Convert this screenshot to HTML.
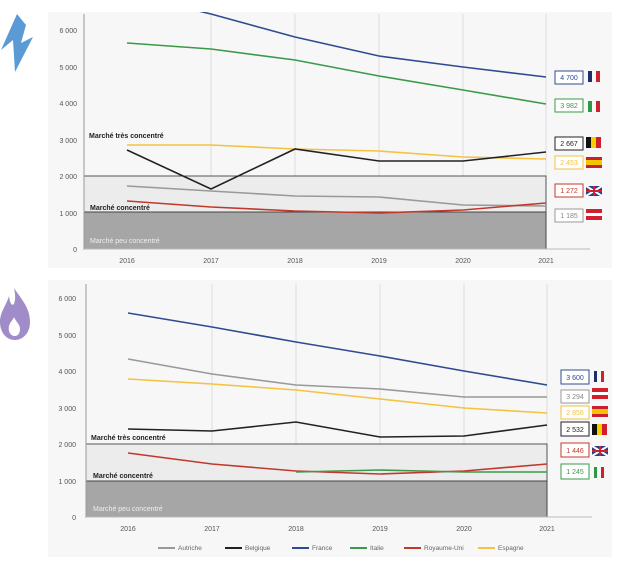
<!DOCTYPE html>
<html><head><meta charset="utf-8"><style>
html,body{margin:0;padding:0;background:#fff;}
svg{display:block;font-family:"Liberation Sans",sans-serif;}
</style></head><body>
<svg width="639" height="563" viewBox="0 0 639 563" xmlns="http://www.w3.org/2000/svg">
<defs><clipPath id="c1"><rect x="48" y="12" width="564" height="256"/></clipPath></defs>
<!-- icons -->
<polygon points="17,14 1,50 13,40 15,72 33,37 21,43 26,25" fill="#5b9bd5"/>
<path d="M14,288 C22,300 30,308 30,322 C30,334 22,340 15,340 C6,340 0,332 0,322 C0,312 6,306 9,296 C10,304 12,306 14,304 C16,298 15,293 14,288 Z" fill="#a08cc8"/>
<path d="M15,336 C10,336 8,331 9,326 C10,322 13,320 14,317 C16,322 20,324 20,329 C20,333 18,336 15,336Z" fill="#fff"/>

<!-- top panel -->
<rect x="48" y="12" width="564" height="256" fill="#f7f7f7"/>
<g stroke="#dcdcdc" stroke-width="1">
<line x1="211" y1="14" x2="211" y2="249"/><line x1="295" y1="14" x2="295" y2="249"/><line x1="379" y1="14" x2="379" y2="249"/><line x1="463" y1="14" x2="463" y2="249"/><line x1="546" y1="14" x2="546" y2="249"/>
</g>
<rect x="84" y="176" width="462" height="36" fill="#ececec" stroke="#555" stroke-width="1"/>
<rect x="84" y="212" width="462" height="37" fill="#a6a6a6" stroke="#444" stroke-width="1"/>
<line x1="84" y1="14" x2="84" y2="249" stroke="#999"/>
<line x1="84" y1="249" x2="590" y2="249" stroke="#bbb"/>
<g font-size="7" fill="#555" text-anchor="end">
<text x="77" y="33">6 000</text><text x="77" y="70">5 000</text><text x="77" y="106">4 000</text><text x="77" y="143">3 000</text><text x="77" y="179">2 000</text><text x="77" y="216">1 000</text><text x="77" y="252">0</text>
</g>
<g font-size="7" fill="#555" text-anchor="middle">
<text x="127" y="263">2016</text><text x="211" y="263">2017</text><text x="295" y="263">2018</text><text x="379" y="263">2019</text><text x="463" y="263">2020</text><text x="546" y="263">2021</text>
</g>
<g font-size="7" font-weight="bold" fill="#222">
<text x="89" y="138">Marché très concentré</text><text x="90" y="210">Marché concentré</text>
</g>
<text x="90" y="243" font-size="7" fill="#eee">Marché peu concentré</text>
<g fill="none" stroke-width="1.6" clip-path="url(#c1)">
<polyline stroke="#2f4b8f" points="127,-6 211,14 295,37 379,56 463,67 546,77"/>
<polyline stroke="#3a9a4a" points="127,43 211,49 295,60 379,76 463,90 546,104"/>
<polyline stroke="#f5c242" points="127,145 211,145 295,149 379,151 463,157 546,159"/>
<polyline stroke="#222" points="127,150 211,189 295,149 379,161 463,161 546,152"/>
<polyline stroke="#999" points="127,186 211,191 295,196 379,197 463,205 546,206"/>
<polyline stroke="#c0392b" points="127,201 211,207 295,211 379,213 463,210 546,203"/>
</g>
<g font-size="7" text-anchor="middle">
<rect x="555" y="71" width="28" height="13" fill="#fff" stroke="#2f4b8f"/><text x="569" y="80" fill="#2f4b8f">4 700</text>
<rect x="555" y="99" width="28" height="13" fill="#fff" stroke="#3a9a4a"/><text x="569" y="108" fill="#3a9a4a">3 982</text>
<rect x="555" y="137" width="28" height="13" fill="#fff" stroke="#222"/><text x="569" y="146" fill="#222">2 667</text>
<rect x="555" y="156" width="28" height="13" fill="#fff" stroke="#f5c242"/><text x="569" y="165" fill="#f5c242">2 453</text>
<rect x="555" y="184" width="28" height="13" fill="#fff" stroke="#c0392b"/><text x="569" y="193" fill="#c0392b">1 272</text>
<rect x="555" y="209" width="28" height="13" fill="#fff" stroke="#999"/><text x="569" y="218" fill="#888">1 185</text>
</g>
<!-- flags top -->
<rect x="588" y="71" width="4" height="11" fill="#1f2d6b"/><rect x="596" y="71" width="4" height="11" fill="#d0202e"/>
<rect x="588" y="101" width="4" height="11" fill="#2a9a44"/><rect x="596" y="101" width="4" height="11" fill="#d0202e"/>
<rect x="586" y="137" width="5" height="11" fill="#111"/><rect x="591" y="137" width="5" height="11" fill="#f5d000"/><rect x="596" y="137" width="5" height="11" fill="#d0202e"/>
<rect x="586" y="157" width="16" height="11" fill="#c8202e"/><rect x="586" y="160" width="16" height="5" fill="#f5c400"/>
<rect x="586" y="186" width="16" height="10" fill="#2a3f8a"/><path d="M586,186 L602,196 M602,186 L586,196" stroke="#fff" stroke-width="2"/><path d="M594,186 V196 M586,191 H602" stroke="#d0202e" stroke-width="2"/>
<rect x="586" y="209" width="16" height="11" fill="#d0202e"/><rect x="586" y="213" width="16" height="3" fill="#fff"/>

<!-- bottom panel -->
<rect x="48" y="280" width="564" height="277" fill="#f7f7f7"/>
<g stroke="#dcdcdc" stroke-width="1">
<line x1="212" y1="284" x2="212" y2="517"/><line x1="296" y1="284" x2="296" y2="517"/><line x1="380" y1="284" x2="380" y2="517"/><line x1="464" y1="284" x2="464" y2="517"/><line x1="547" y1="284" x2="547" y2="517"/>
</g>
<rect x="86" y="444" width="461" height="37" fill="#ececec" stroke="#555" stroke-width="1"/>
<rect x="86" y="481" width="461" height="36" fill="#a6a6a6" stroke="#444" stroke-width="1"/>
<line x1="86" y1="284" x2="86" y2="517" stroke="#999"/>
<line x1="86" y1="517" x2="592" y2="517" stroke="#bbb"/>
<g font-size="7" fill="#555" text-anchor="end">
<text x="76" y="301">6 000</text><text x="76" y="338">5 000</text><text x="76" y="374">4 000</text><text x="76" y="411">3 000</text><text x="76" y="447">2 000</text><text x="76" y="484">1 000</text><text x="76" y="520">0</text>
</g>
<g font-size="7" fill="#555" text-anchor="middle">
<text x="128" y="531">2016</text><text x="212" y="531">2017</text><text x="296" y="531">2018</text><text x="380" y="531">2019</text><text x="464" y="531">2020</text><text x="547" y="531">2021</text>
</g>
<g font-size="7" font-weight="bold" fill="#222">
<text x="91" y="440">Marché très concentré</text><text x="93" y="478">Marché concentré</text>
</g>
<text x="93" y="511" font-size="7" fill="#eee">Marché peu concentré</text>
<g fill="none" stroke-width="1.6">
<polyline stroke="#2f4b8f" points="128,313 212,327 296,342 380,356 464,371 547,385"/>
<polyline stroke="#999" points="128,359 212,374 296,385 380,389 464,397 547,397"/>
<polyline stroke="#f5c242" points="128,379 212,384 296,390 380,399 464,408 547,413"/>
<polyline stroke="#222" points="128,429 212,431 296,422 380,437 464,436 547,425"/>
<polyline stroke="#c0392b" points="128,453 212,464 296,471 380,474 464,471 547,464"/>
<polyline stroke="#3a9a4a" points="296,472 380,470 464,472 547,472"/>
</g>
<g font-size="7" text-anchor="middle">
<rect x="561" y="370" width="28" height="14" fill="#fff" stroke="#2f4b8f"/><text x="575" y="380" fill="#2f4b8f">3 600</text>
<rect x="561" y="390" width="28" height="13" fill="#fff" stroke="#999"/><text x="575" y="399" fill="#888">3 294</text>
<rect x="561" y="406" width="28" height="13" fill="#fff" stroke="#f5c242"/><text x="575" y="415" fill="#f5c242">2 856</text>
<rect x="561" y="422" width="28" height="14" fill="#fff" stroke="#222"/><text x="575" y="432" fill="#222">2 532</text>
<rect x="561" y="443" width="28" height="14" fill="#fff" stroke="#c0392b"/><text x="575" y="453" fill="#c0392b">1 446</text>
<rect x="561" y="464" width="28" height="15" fill="#fff" stroke="#3a9a4a"/><text x="575" y="474" fill="#3a9a4a">1 245</text>
</g>
<rect x="594" y="371" width="3" height="11" fill="#1f2d6b"/><rect x="601" y="371" width="3" height="11" fill="#d0202e"/>
<rect x="592" y="388" width="16" height="11" fill="#d0202e"/><rect x="592" y="392" width="16" height="3" fill="#fff"/>
<rect x="592" y="406" width="16" height="11" fill="#c8202e"/><rect x="592" y="409" width="16" height="5" fill="#f5c400"/>
<rect x="592" y="424" width="5" height="11" fill="#111"/><rect x="597" y="424" width="5" height="11" fill="#f5d000"/><rect x="602" y="424" width="5" height="11" fill="#d0202e"/>
<rect x="592" y="446" width="16" height="10" fill="#2a3f8a"/><path d="M592,446 L608,456 M608,446 L592,456" stroke="#fff" stroke-width="2"/><path d="M600,446 V456 M592,451 H608" stroke="#d0202e" stroke-width="2"/>
<rect x="594" y="467" width="3" height="11" fill="#2a9a44"/><rect x="601" y="467" width="3" height="11" fill="#d0202e"/>
<!-- legend -->
<g font-size="6.5" fill="#666" stroke-width="2">
<line x1="158" y1="548" x2="175" y2="548" stroke="#999"/><text x="178" y="550">Autriche</text>
<line x1="225" y1="548" x2="242" y2="548" stroke="#222"/><text x="245" y="550">Belgique</text>
<line x1="292" y1="548" x2="309" y2="548" stroke="#2f4b8f"/><text x="312" y="550">France</text>
<line x1="350" y1="548" x2="367" y2="548" stroke="#3a9a4a"/><text x="370" y="550">Italie</text>
<line x1="404" y1="548" x2="421" y2="548" stroke="#c0392b"/><text x="424" y="550">Royaume-Uni</text>
<line x1="478" y1="548" x2="495" y2="548" stroke="#f5c242"/><text x="498" y="550">Espagne</text>
</g>
</svg>
</body></html>
